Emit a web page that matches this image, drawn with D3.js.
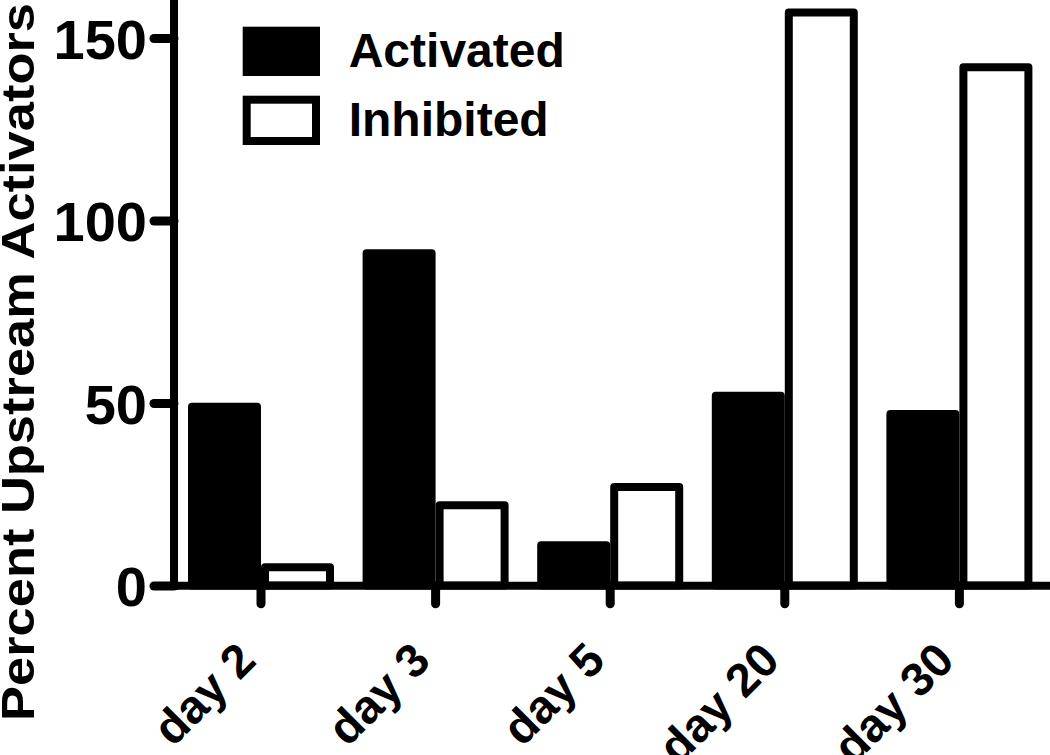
<!DOCTYPE html>
<html><head><meta charset="utf-8">
<script src="https://cdn.jsdelivr.net/npm/d3@7"></script>
<style>
body{margin:0;background:#fff}
svg text{font-family:"Liberation Sans",Arial,Helvetica,sans-serif;font-weight:bold;fill:#000}
</style>
</head><body>
<svg id="chart" width="1050" height="755"></svg>
<script>
const categories = ["day 2", "day 3", "day 5", "day 20", "day 30"];
const seriesNames = ["Activated", "Inhibited"];
const activated = [49, 91, 11, 52, 47];
const inhibited = [5, 22, 27, 157, 142];
const yTicks = [0, 50, 100, 150];
const yTitle = "Percent Upstream Activators";

const svg = d3.select("#chart");
const SW = 8;

const y = d3.scaleLinear().domain([0, 160]).range([585.5, 1.5]);
const x = d3.scaleBand().domain(categories).range([173.7, 1046.7]).padding(0);
const x1 = d3.scaleBand().domain(seriesNames).range([0, 146]).padding(0);
const fills = {Activated: "#000", Inhibited: "#fff"};
const values = {Activated: activated, Inhibited: inhibited};

// bars
const groups = svg.append("g").selectAll("g").data(categories).join("g")
  .attr("transform", d => `translate(${x(d) + x.bandwidth() / 2 - 73},0)`);
groups.selectAll("rect").data((d, i) => seriesNames.map(s => ({s, v: values[s][i]})))
  .join("rect")
  .attr("x", d => x1(d.s) + SW / 2)
  .attr("width", x1.bandwidth() - SW)
  .attr("y", d => y(d.v))
  .attr("height", d => y(0) - y(d.v))
  .attr("fill", d => fills[d.s])
  .attr("stroke", "#000")
  .attr("stroke-width", SW)
  .attr("stroke-linejoin", "round");

// y axis
const yAxis = svg.append("g").attr("transform", "translate(174,0)")
  .call(d3.axisLeft(y).tickValues(yTicks).tickSize(20).tickSizeOuter(0).tickPadding(7));
yAxis.select(".domain").attr("stroke-width", SW).attr("d", `M0,${y(0) + 4.5}V${y(160) - 2}`);
yAxis.selectAll(".tick line").attr("stroke-width", 9).attr("stroke-linecap", "round");
yAxis.selectAll(".tick text").attr("font-size", 56).attr("dy", "0.36em")
  .style("font-family", "'Liberation Sans',Arial,sans-serif").style("font-weight", "bold");

// x axis
const xAxis = svg.append("g").attr("transform", `translate(0,${y(0) + 0.3})`)
  .call(d3.axisBottom(x).tickSize(18).tickSizeOuter(0));
xAxis.select(".domain").remove();
xAxis.selectAll(".tick line").attr("stroke-width", 9).attr("stroke-linecap", "round");
xAxis.selectAll(".tick text").attr("font-size", 47).attr("text-anchor", "end")
  .attr("x", 0).attr("y", 0).attr("dy", 0)
  .attr("transform", "translate(-3,77) rotate(-45)")
  .style("font-family", "'Liberation Sans',Arial,sans-serif").style("font-weight", "bold");
svg.append("line")
  .attr("x1", 170).attr("x2", 1050)
  .attr("y1", y(0) + 0.3).attr("y2", y(0) + 0.3)
  .attr("stroke", "#000").attr("stroke-width", SW);

// legend
const leg = svg.append("g").selectAll("g").data(seriesNames).join("g")
  .attr("transform", (d, i) => `translate(246.7,${30.7 + i * 69})`);
leg.append("rect").attr("width", 69.3).attr("height", 41.3)
  .attr("fill", d => fills[d]).attr("stroke", "#000").attr("stroke-width", SW);
leg.append("text").attr("x", 102).attr("y", 36).attr("font-size", 48).text(d => d);

// y title
svg.append("text")
  .attr("transform", "translate(34,362) rotate(-90)")
  .attr("text-anchor", "middle")
  .attr("font-size", 46)
  .attr("textLength", 718)
  .attr("lengthAdjust", "spacingAndGlyphs")
  .text(yTitle);
</script>
</body></html>
